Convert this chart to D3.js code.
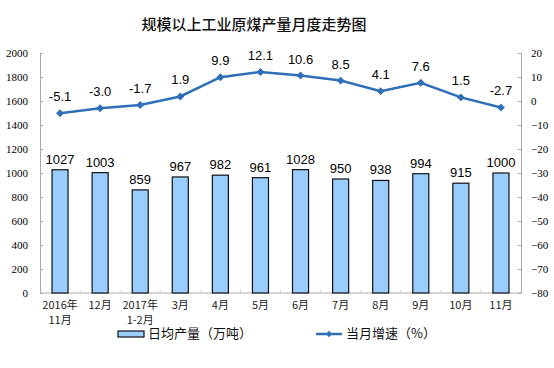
<!DOCTYPE html>
<html><head><meta charset="utf-8">
<script src="https://cdn.jsdelivr.net/npm/d3@7/dist/d3.min.js"></script>
<style>body{margin:0;background:#fff;}svg{display:block;}</style>
</head><body>
<svg id="c" width="554" height="368"></svg>
<script>
const categories = [["2016年","11月"],["12月"],["2017年","1-2月"],["3月"],["4月"],["5月"],["6月"],["7月"],["8月"],["9月"],["10月"],["11月"]];
const output = [1027, 1003, 859, 967, 982, 961, 1028, 950, 938, 994, 915, 1000];
const growth = [-5.1, -3.0, -1.7, 1.9, 9.9, 12.1, 10.6, 8.5, 4.1, 7.6, 1.5, -2.7];
const leftTicks = [0,200,400,600,800,1000,1200,1400,1600,1800,2000];
const rightTicks = [-80,-70,-60,-50,-40,-30,-20,-10,0,10,20];
const title = "规模以上工业原煤产量月度走势图";
const legendBar = "日均产量（万吨）";
const legendLine = "当月增速（%）";

const svg = d3.select("#c");
const L = 40, R = 521, T = 53, B = 293;
const idx = categories.map((d,i)=>i);
const x = d3.scaleBand().domain(idx).range([L,R]).paddingInner(0.6).paddingOuter(0.3);
const xb = d3.scaleBand().domain(idx).range([L,R]);
const yL = d3.scaleLinear().domain([0,2000]).range([B,T]);
const yR = d3.scaleLinear().domain([-80,20]).range([B,T]);
const lineColor = "#2F6FB7";
const serif = "'Liberation Serif','DejaVu Serif',serif";
const sans = "'Liberation Sans',Arial,sans-serif";
const cjk = "'Noto Sans CJK SC',sans-serif";

svg.append("text").attr("x",254).attr("y",30).attr("text-anchor","middle")
  .style("font-family",cjk).style("font-size","15px").style("font-weight","500").attr("fill","#111").text(title);

// axes
const axL = svg.append("g").attr("transform",`translate(${L},0)`)
  .call(d3.axisLeft(yL).tickValues(leftTicks).tickFormat(d3.format("d")).tickSize(-3).tickPadding(12));
const axR = svg.append("g").attr("transform",`translate(${R},0)`)
  .call(d3.axisRight(yR).tickValues(rightTicks).tickFormat(d3.format("d")).tickSize(-3).tickPadding(10));
[axL,axR].forEach(a=>{
  a.attr("font-family",null);
  a.select(".domain").attr("stroke","#aaa");
  a.selectAll(".tick line").attr("stroke","#aaa");
  a.selectAll("text").style("font-family",serif).style("font-size","11px").attr("fill","#000");
});
axR.selectAll("text").attr("text-anchor","start");

// x axis
svg.append("line").attr("x1",L).attr("x2",R).attr("y1",B).attr("y2",B).attr("stroke","#aaa");
svg.append("g").selectAll("line").data(idx.slice(1)).join("line")
  .attr("x1",d=>xb(d)).attr("x2",d=>xb(d)).attr("y1",B).attr("y2",B-3).attr("stroke","#ccc");

// bars
svg.append("g").selectAll("rect").data(output).join("rect")
  .attr("x",(d,i)=>x(i)).attr("width",x.bandwidth())
  .attr("y",d=>yL(d)).attr("height",d=>B-yL(d))
  .attr("fill","#99CCFF").attr("stroke","#111").attr("stroke-width",1.2);
svg.append("g").selectAll("text").data(output).join("text")
  .attr("x",(d,i)=>x(i)+x.bandwidth()/2).attr("y",d=>yL(d)-6)
  .attr("text-anchor","middle").style("font-family",sans).style("font-size","13px").attr("fill","#000").text(d=>d);

// line
const cx = i=>xb(i)+xb.bandwidth()/2;
svg.append("path").datum(growth)
  .attr("d",d3.line().x((d,i)=>cx(i)).y(d=>yR(d)))
  .attr("fill","none").attr("stroke",lineColor).attr("stroke-width",2.5);
svg.append("g").selectAll("path").data(growth).join("path")
  .attr("transform",(d,i)=>`translate(${cx(i)},${yR(d)})`)
  .attr("d",d3.symbol(d3.symbolDiamond2,40)).attr("fill",lineColor);
svg.append("g").selectAll("text").data(growth).join("text")
  .attr("x",(d,i)=>cx(i)).attr("y",d=>yR(d)-12)
  .attr("text-anchor","middle").style("font-family",sans).style("font-size","13px").attr("fill","#000")
  .text(d=>d.toFixed(1));

// x labels
const xl = svg.append("g").selectAll("text").data(categories).join("text")
  .attr("x",(d,i)=>cx(i)).attr("y",309).attr("text-anchor","middle")
  .style("font-family",cjk).style("font-size","11px").attr("fill","#222");
xl.selectAll("tspan").data(d=>d).join("tspan")
  .attr("x",function(){return this.parentNode.getAttribute("x");})
  .attr("dy",(d,j)=>j===0?0:15).text(d=>d);

// legend
svg.append("rect").attr("x",118).attr("y",331).attr("width",26).attr("height",6)
  .attr("fill","#99CCFF").attr("stroke","#111").attr("stroke-width",1.2);
svg.append("text").attr("x",148).attr("y",338).style("font-family",cjk).style("font-size","13px").attr("fill","#111").text(legendBar);
svg.append("line").attr("x1",316).attr("x2",342).attr("y1",334).attr("y2",334).attr("stroke",lineColor).attr("stroke-width",2.5);
svg.append("path").attr("transform","translate(329,334)").attr("d",d3.symbol(d3.symbolDiamond2,25)).attr("fill",lineColor);
svg.append("text").attr("x",346).attr("y",338).style("font-family",cjk).style("font-size","13px").attr("fill","#111").text(legendLine);
</script>
</body></html>
